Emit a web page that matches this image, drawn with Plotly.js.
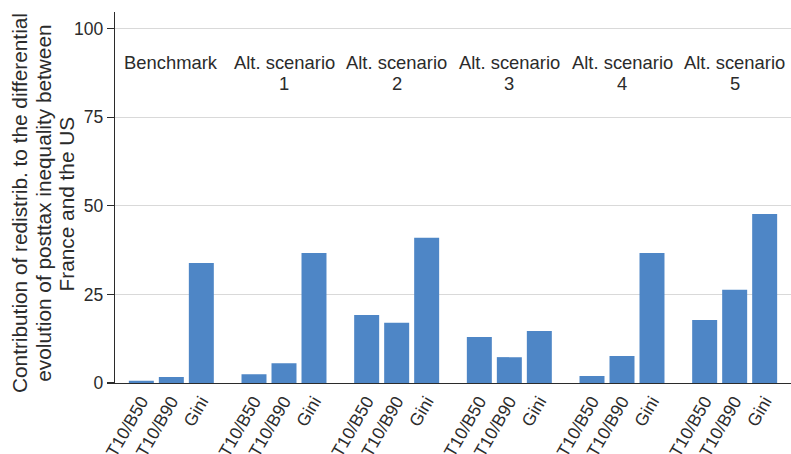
<!DOCTYPE html>
<html>
<head>
<meta charset="utf-8">
<script src="https://cdn.plot.ly/plotly-3.0.1.min.js"></script>
<style>html,body{margin:0;padding:0;background:#fff;}#chart{width:791px;height:454px;}</style>
</head>
<body>
<div id="chart"></div>
<script>
const facetLine1 = ["Benchmark", "Alt. scenario", "Alt. scenario", "Alt. scenario", "Alt. scenario", "Alt. scenario"];
const facetLine2 = ["", "1", "2", "3", "4", "5"];
const measures = ["T10/B50", "T10/B90", "Gini"];
const benchmark = [0.6, 1.7, 33.9];
const alt1 = [2.5, 5.6, 36.7];
const alt2 = [19.2, 17.0, 41.0];
const alt3 = [13.0, 7.3, 14.7];
const alt4 = [2.0, 7.6, 36.7];
const alt5 = [17.8, 26.3, 47.7];
const yTicks = [0, 25, 50, 75, 100];
const yTitleLines = [
  "Contribution of redistrib. to the differential",
  "evolution of posttax inequality between",
  "France and the US"
];

const series = [benchmark, alt1, alt2, alt3, alt4, alt5];
const n = series.length;
const font = "'Liberation Sans', Arial, Helvetica, sans-serif";
const ink = "#2b2b2b";

const data = series.map((vals, i) => ({
  type: "bar",
  x: measures,
  y: vals,
  xaxis: i === 0 ? "x" : "x" + (i + 1),
  yaxis: "y",
  marker: {color: "#4e86c6"},
  hoverinfo: "x+y",
  showlegend: false
}));

const layout = {
  width: 791, height: 454,
  margin: {l: 115, r: 0, t: 12, b: 71},
  paper_bgcolor: "#fff", plot_bgcolor: "#fff",
  font: {family: font, size: 17.5, color: ink},
  bargap: 0.167,
  yaxis: {
    range: [0, 104.7],
    tickvals: yTicks,
    ticktext: yTicks.map(String),
    showgrid: true, gridcolor: "#d9d9d9", gridwidth: 1.3,
    zeroline: false,
    showline: true, linecolor: ink, linewidth: 1.3,
    ticks: "outside", ticklen: 7, tickcolor: ink, tickwidth: 1.2,
    tickfont: {family: font, size: 17.5, color: ink},
    fixedrange: true
  },
  annotations: []
};

for (let i = 0; i < n; i++) {
  const key = i === 0 ? "xaxis" : "xaxis" + (i + 1);
  layout[key] = {
    domain: [i / n, (i + 1) / n],
    anchor: "y",
    type: "category",
    range: [-0.878, 2.878],
    showline: true, linecolor: ink, linewidth: 1.3,
    showgrid: false, zeroline: false,
    ticks: "",
    tickangle: -60,
    tickfont: {family: font, size: 17.5, color: ink},
    fixedrange: true
  };
  [facetLine1[i], facetLine2[i]].forEach((t, k) => {
    if (!t) return;
    layout.annotations.push({
      text: t,
      xref: "paper", yref: "paper",
      x: (i + 0.5) / n, y: k === 0 ? 0.8652 : 0.8086,
      xanchor: "center", yanchor: "middle",
      showarrow: false,
      font: {family: font, size: 18.4, color: ink}
    });
  });
}

const titleX = [19.5, 43.2, 66.9];
yTitleLines.forEach((t, k) => {
  layout.annotations.push({
    text: t,
    xref: "paper", yref: "paper",
    x: (titleX[k] - 115) / 676, y: 0.4838,
    xanchor: "center", yanchor: "middle",
    textangle: -90,
    showarrow: false,
    font: {family: font, size: 20.8, color: ink}
  });
});

Plotly.newPlot("chart", data, layout, {displayModeBar: false, staticPlot: true});
</script>
</body>
</html>
